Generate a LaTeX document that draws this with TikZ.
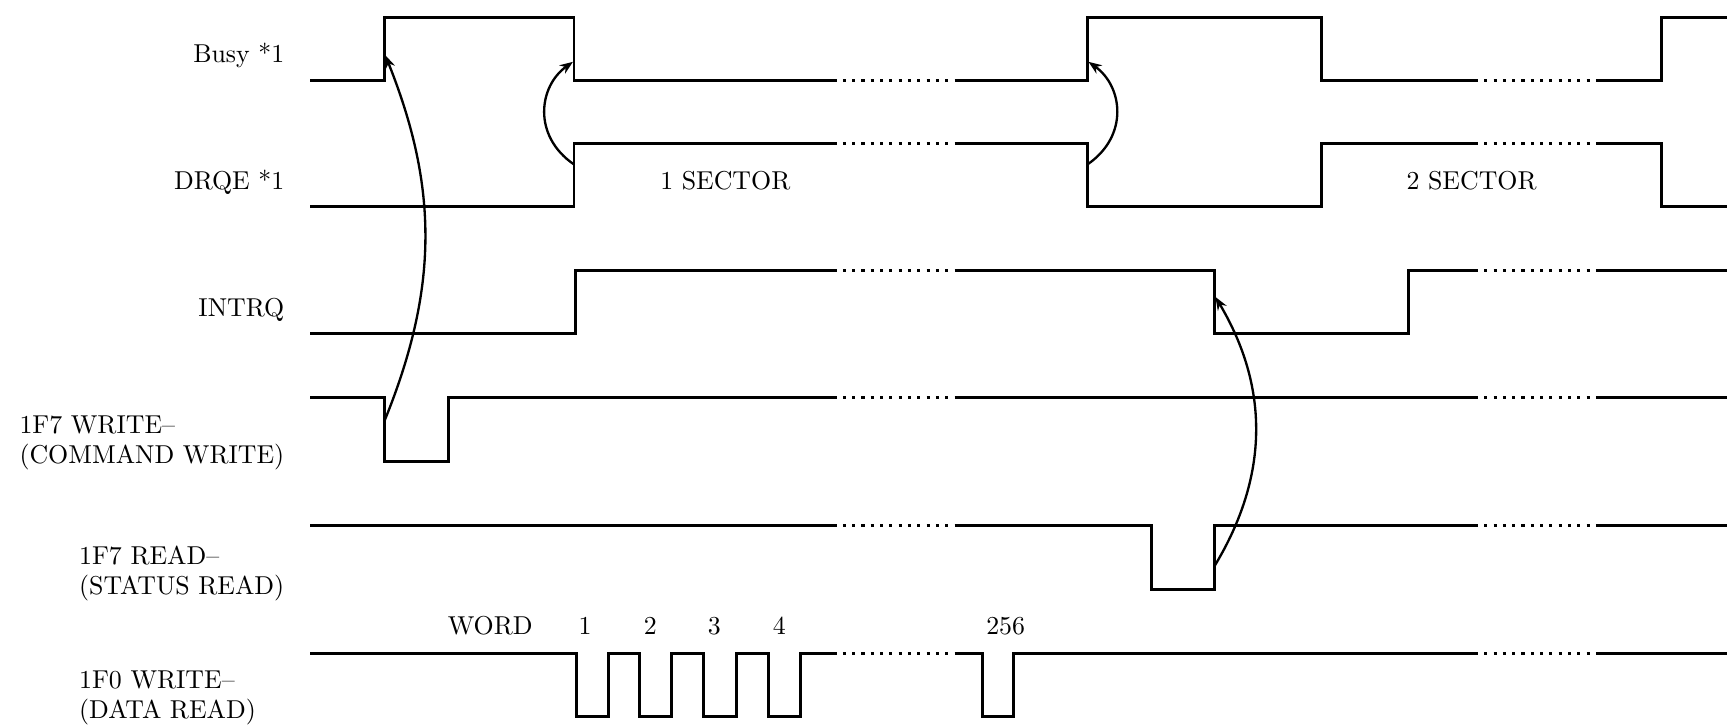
\documentclass[tikz,border=0pt]{standalone}
\usepackage{tikz}
\usetikzlibrary{arrows.meta,positioning}

\begin{document}
\begin{tikzpicture}[x=1.5cm,y=1.5cm,>=Stealth,line join=miter,
    wave/.style={line width=1.05pt},
    gap/.style={line width=1.2pt,dash pattern=on 1.2pt off 2.4pt},
    cause/.style={-{Stealth[length=5.1pt,width=3.9pt]},line width=.9pt},
    sigtext/.style={font=\fontsize{10}{11.7}\selectfont,inner sep=0pt}]
    \useasboundingbox (0,0) rectangle (15.68,6.58);

    % Signal names down the left side.
    \node[sigtext,anchor=base east] (busy) at (2.58,6.01) {Busy *1};
    \node[sigtext,anchor=base east] (drqe) at (2.58,4.86) {DRQE *1};
    \node[sigtext,anchor=base east] (intrq) at (2.58,3.71) {INTRQ};
    \node[sigtext,align=left,anchor=north east] (cmdwr) at (2.58,2.82)
      {1F7 WRITE--\\(COMMAND WRITE)};
    \node[sigtext,align=left,anchor=north east] (statrd) at (2.58,1.64)
      {1F7 READ--\\(STATUS READ)};
    \node[sigtext,align=left,anchor=north west] (datard)
      at ([yshift=-1.695cm]statrd.north west) {1F0 WRITE--\\(DATA READ)};

    % Busy.
    \draw[wave] (2.81,5.85) -- (3.48,5.85) |- (5.20,6.42) |- (7.55,5.85);
    \draw[wave] (8.68,5.85) -- (9.85,5.85) |- (11.97,6.42) |- (13.36,5.85);
    \draw[wave] (14.46,5.85) -- (15.05,5.85) |- (15.64,6.42);

    % DRQE.
    \draw[wave] (2.81,4.71) -- (5.20,4.71) |- (7.55,5.28);
    \draw[wave] (8.68,5.28) -- (9.85,5.28) |- (11.97,4.71) |- (13.36,5.28);
    \draw[wave] (14.46,5.28) -- (15.05,5.28) |- (15.64,4.71);
    \node[sigtext,anchor=base] (sec1) at (6.57,4.86) {1 SECTOR};
    \node[sigtext,anchor=base] (sec2) at (13.33,4.86) {2 SECTOR};

    % INTRQ.
    \draw[wave] (2.81,3.56) -- (5.21,3.56) |- (7.55,4.13);
    \draw[wave] (8.68,4.13) -- (11.00,4.13) |- (12.76,3.56) |- (13.36,4.13);
    \draw[wave] (14.46,4.13) -- (15.64,4.13);

    % Command write strobe.
    \draw[wave] (2.81,2.98) -- (3.48,2.98) |- (4.06,2.40) |- (7.55,2.98);
    \draw[wave] (8.68,2.98) -- (13.36,2.98);
    \draw[wave] (14.46,2.98) -- (15.64,2.98);

    % Status read strobe.
    \draw[wave] (2.81,1.82) -- (7.55,1.82);
    \draw[wave] (8.68,1.82) -- (10.43,1.82) |- (11.00,1.24) |- (13.36,1.82);
    \draw[wave] (14.46,1.82) -- (15.64,1.82);

    % Data strobes, one per word.
    \draw[wave] (2.81,0.66) -- (5.22,0.66) |- (5.51,0.09) |- (5.79,0.66)
      |- (6.08,0.09) |- (6.37,0.66) |- (6.67,0.09) |- (6.96,0.66)
      |- (7.25,0.09) |- (7.55,0.66);
    \draw[wave] (8.68,0.66) -- (8.90,0.66) |- (9.18,0.09) |- (13.36,0.66);
    \draw[wave] (14.46,0.66) -- (15.64,0.66);
    \node[sigtext,anchor=base] (word) at (4.44,0.83) {WORD};
    \node[sigtext,anchor=base] (w1) at (5.30,0.83) {1};
    \node[sigtext,anchor=base] (w2) at (5.89,0.83) {2};
    \node[sigtext,anchor=base] (w3) at (6.47,0.83) {3};
    \node[sigtext,anchor=base] (w4) at (7.06,0.83) {4};
    \node[sigtext,anchor=base] (w256) at (9.11,0.83) {256};

    % The dotted breaks in every trace.
    \draw[gap] (7.55,5.85) -- (8.68,5.85) (13.36,5.85) -- (14.46,5.85);
    \draw[gap] (7.55,5.28) -- (8.68,5.28) (13.36,5.28) -- (14.46,5.28);
    \draw[gap] (7.55,4.13) -- (8.68,4.13) (13.36,4.13) -- (14.46,4.13);
    \draw[gap] (7.55,2.98) -- (8.68,2.98) (13.36,2.98) -- (14.46,2.98);
    \draw[gap] (7.55,1.82) -- (8.68,1.82) (13.36,1.82) -- (14.46,1.82);
    \draw[gap] (7.55,0.66) -- (8.68,0.66) (13.36,0.66) -- (14.46,0.66);

    % Edges that cause other edges.
    \coordinate (cmdfall) at (3.48,2.76);
    \coordinate (busyrise) at (3.49,6.08);
    \coordinate (drqrise) at (5.20,5.09);
    \coordinate (busyfall) at (5.19,6.02);
    \coordinate (drqfall) at (9.85,5.09);
    \coordinate (busyrise2) at (9.86,6.02);
    \coordinate (statrise) at (11.00,1.45);
    \coordinate (intrqfall) at (11.01,3.89);
    \draw[cause] (cmdfall) to[bend right=22] (busyrise);
    \draw[cause] (drqrise) .. controls (4.82,5.35) and (4.88,5.80) .. (busyfall);
    \draw[cause] (drqfall) .. controls (10.23,5.35) and (10.17,5.80) .. (busyrise2);
    \draw[cause] (statrise) to[bend right=31] (intrqfall);
  \end{tikzpicture}
\end{document}
